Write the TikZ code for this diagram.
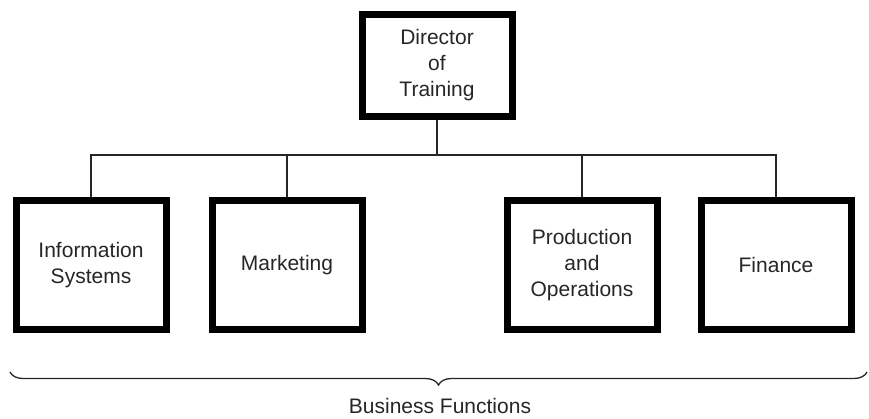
\documentclass[tikz,border=0pt]{standalone}
\usepackage{fontspec}
\setmainfont{Liberation Sans}
\usetikzlibrary{decorations.pathreplacing}

\begin{document}
\begin{tikzpicture}[x=1pt, y=-1pt,
    unit/.style ={draw, line width=7pt, inner sep=0pt, align=center,
      minimum width=150pt, minimum height=129pt,
      font=\fontsize{21}{26}\selectfont, text=black!85},
    head/.style ={unit, minimum height=102pt},
    link/.style ={line width=1.3pt, black!85}]
   \useasboundingbox (0,0) rectangle (869,418);

   \node[head] (dir) at (437,65)  {Director\\of\\Training};
   \node[unit] (info) at (91,265)  {Information\\Systems};
   \node[unit] (mkt)  at (287,265) {Marketing};
   \node[unit] (prod) at (582,265) {Production\\and\\Operations};
   \node[unit] (fin)  at (776,265) {Finance};
   \coordinate (bus) at (437,155);

   \draw[link] (dir.south) to (bus);
   \draw[link] (bus) -| (info.north);
   \draw[link] (bus) -| (mkt.north);
   \draw[link] (bus) -| (prod.north);
   \draw[link] (bus) -| (fin.north);

   \node[font=\fontsize{21}{26}\selectfont, text=black!85] (bf) at (440,406) {Business Functions};
   \draw[link, decorate, decoration={brace, amplitude=13pt}] (867,372) -- (10,372);
 \end{tikzpicture}
\end{document}
